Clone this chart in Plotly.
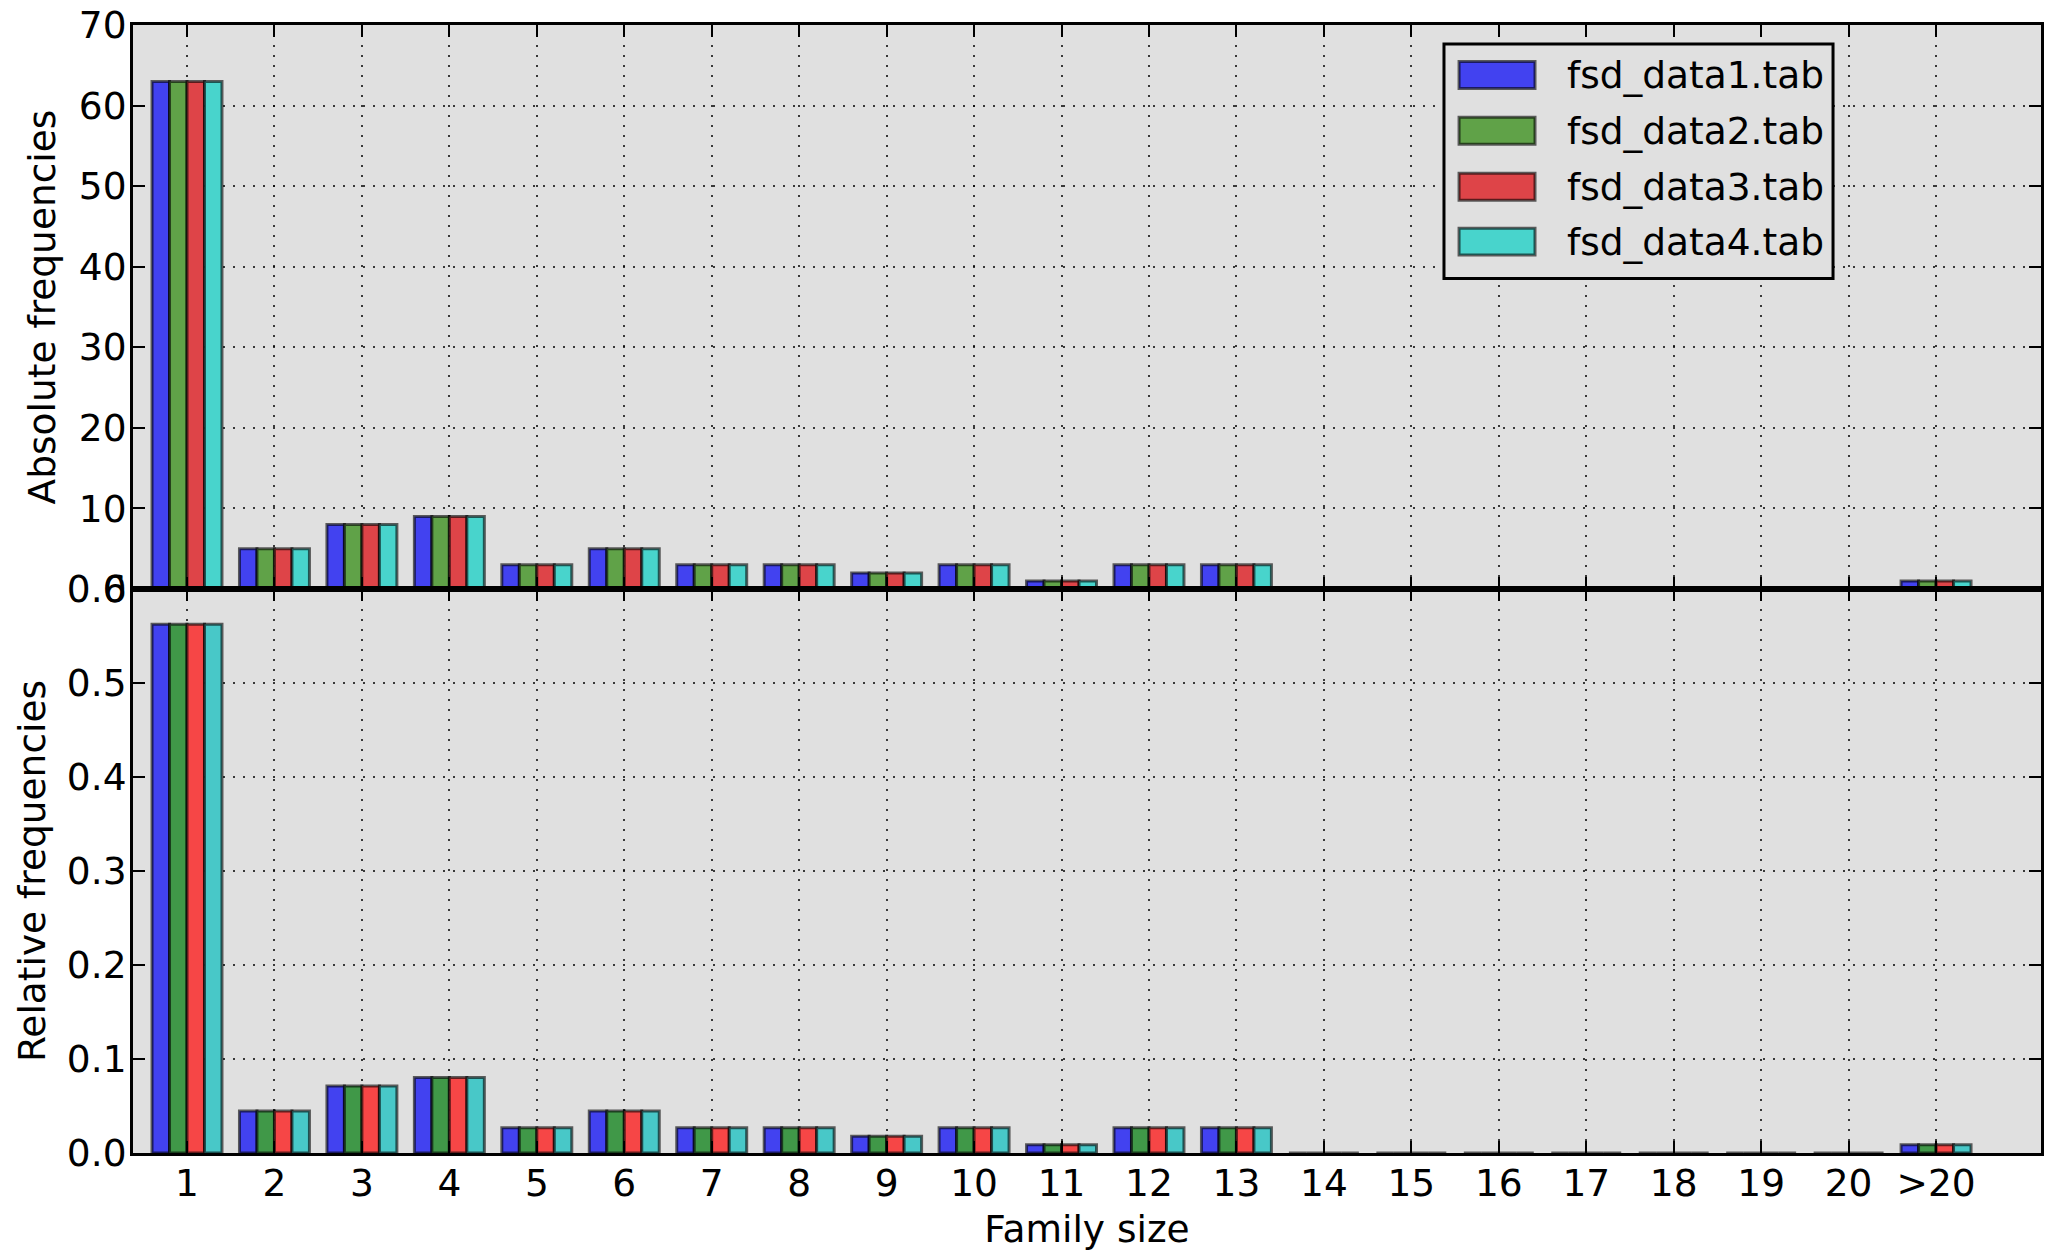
import plotly.graph_objects as go

# ---------------- data ----------------
categories = ["1", "2", "3", "4", "5", "6", "7", "8", "9", "10",
              "11", "12", "13", "14", "15", "16", "17", "18", "19", "20", ">20"]

series_names = ["fsd_data1.tab", "fsd_data2.tab", "fsd_data3.tab", "fsd_data4.tab"]

abs_ticks = [0, 10, 20, 30, 40, 50, 60, 70]
rel_ticks = [0.0, 0.1, 0.2, 0.3, 0.4, 0.5, 0.6]

abs_data1 = [63, 5, 8, 9, 3, 5, 3, 3, 2, 3, 1, 3, 3, 0, 0, 0, 0, 0, 0, 0, 1]
abs_data2 = [63, 5, 8, 9, 3, 5, 3, 3, 2, 3, 1, 3, 3, 0, 0, 0, 0, 0, 0, 0, 1]
abs_data3 = [63, 5, 8, 9, 3, 5, 3, 3, 2, 3, 1, 3, 3, 0, 0, 0, 0, 0, 0, 0, 1]
abs_data4 = [63, 5, 8, 9, 3, 5, 3, 3, 2, 3, 1, 3, 3, 0, 0, 0, 0, 0, 0, 0, 1]

rel_data1 = [0.5625, 0.0446, 0.0714, 0.0804, 0.0268, 0.0446, 0.0268, 0.0268, 0.0179, 0.0268,
             0.0089, 0.0268, 0.0268, 0, 0, 0, 0, 0, 0, 0, 0.0089]
rel_data2 = [0.5625, 0.0446, 0.0714, 0.0804, 0.0268, 0.0446, 0.0268, 0.0268, 0.0179, 0.0268,
             0.0089, 0.0268, 0.0268, 0, 0, 0, 0, 0, 0, 0, 0.0089]
rel_data3 = [0.5625, 0.0446, 0.0714, 0.0804, 0.0268, 0.0446, 0.0268, 0.0268, 0.0179, 0.0268,
             0.0089, 0.0268, 0.0268, 0, 0, 0, 0, 0, 0, 0, 0.0089]
rel_data4 = [0.5625, 0.0446, 0.0714, 0.0804, 0.0268, 0.0446, 0.0268, 0.0268, 0.0179, 0.0268,
             0.0089, 0.0268, 0.0268, 0, 0, 0, 0, 0, 0, 0, 0.0089]

abs_series = [abs_data1, abs_data2, abs_data3, abs_data4]
rel_series = [rel_data1, rel_data2, rel_data3, rel_data4]

# ---------------- styles ----------------
colors_top = ["#4242f0", "#60a248", "#de4448", "#48d4cc"]
colors_bottom = ["#4242f0", "#409848", "#f64646", "#48c8c8"]
edge = dict(color="rgba(0,0,0,0.6)", width=3)
FONT = "DejaVu Sans, Verdana, sans-serif"
FS = 37.5

fig = go.Figure()
for name, vals, col in zip(series_names, abs_series, colors_top):
    fig.add_trace(go.Bar(x=categories, y=vals, name=name, marker=dict(color=col, line=edge),
                         xaxis="x", yaxis="y", showlegend=False))
for name, vals, col in zip(series_names, rel_series, colors_bottom):
    fig.add_trace(go.Bar(x=categories, y=vals, name=name, marker=dict(color=col, line=edge),
                         xaxis="x2", yaxis="y2", showlegend=False))

common = dict(showline=True, linecolor="black", linewidth=3, mirror="ticks",
              ticks="inside", ticklen=12, tickwidth=2, tickcolor="black",
              showgrid=True, gridcolor="rgba(0,0,0,0.75)", gridwidth=2, griddash="2px,8px",
              zeroline=False, automargin=False, ticklabeloverflow="allow",
              tickfont=dict(size=FS, color="black"))

xrange = [-0.6175, 21.2]

fig.update_layout(
    width=2051, height=1243,
    margin=dict(l=125, r=18, t=17, b=98, autoexpand=False),
    paper_bgcolor="white", plot_bgcolor="#e0e0e0",
    font=dict(family=FONT, size=FS, color="black"),
    barmode="group", bargap=0.2, bargroupgap=0,
    showlegend=False,
    xaxis=dict(domain=[0, 1], anchor="y", type="category", range=xrange,
               tickmode="array", tickvals=categories, showticklabels=False, **common),
    xaxis2=dict(domain=[0, 1], anchor="y2", type="category", range=xrange,
                tickmode="array", tickvals=categories, ticktext=categories,
                ticklabelstandoff=-5,
                title=dict(text="Family size", font=dict(size=FS), standoff=26), **common),
    yaxis=dict(domain=[0.5, 1], anchor="x", range=[0, 70.0001], tickmode="array",
               tickvals=abs_ticks, ticktext=[str(v) for v in abs_ticks],
               ticklabelstandoff=-4,
               title=dict(text="Absolute frequencies", font=dict(size=FS), standoff=12), **common),
    yaxis2=dict(domain=[0, 0.5], anchor="x2", range=[0, 0.6], tickmode="array",
                tickvals=rel_ticks, ticktext=[f"{v:.1f}" for v in rel_ticks], ticklabelstandoff=-4,
                title=dict(text="Relative frequencies", font=dict(size=FS), standoff=10), **common),
)

# ---------------- legend (drawn in the top panel) ----------------
fig.add_shape(type="rect", xref="x domain", yref="y domain",
              x0=0.6871, x1=0.891, y0=0.5504, y1=0.9664,
              fillcolor="#e0e0e0", line=dict(color="black", width=3), layer="above")
row_y = [0.9115, 0.8124, 0.7133, 0.6159]
for name, col, yc in zip(series_names, colors_top, row_y):
    fig.add_shape(type="rect", xref="x domain", yref="y domain",
                  x0=0.695, x1=0.7348, y0=yc - 0.0239, y1=yc + 0.0239,
                  fillcolor=col, line=dict(color="rgba(0,0,0,0.6)", width=3), layer="above")
    fig.add_annotation(xref="x domain", yref="y domain", x=0.7505, y=yc,
                       text=name, showarrow=False, xanchor="left", yanchor="middle",
                       font=dict(size=FS, color="black", family=FONT))

fig.write_html("out.html")
